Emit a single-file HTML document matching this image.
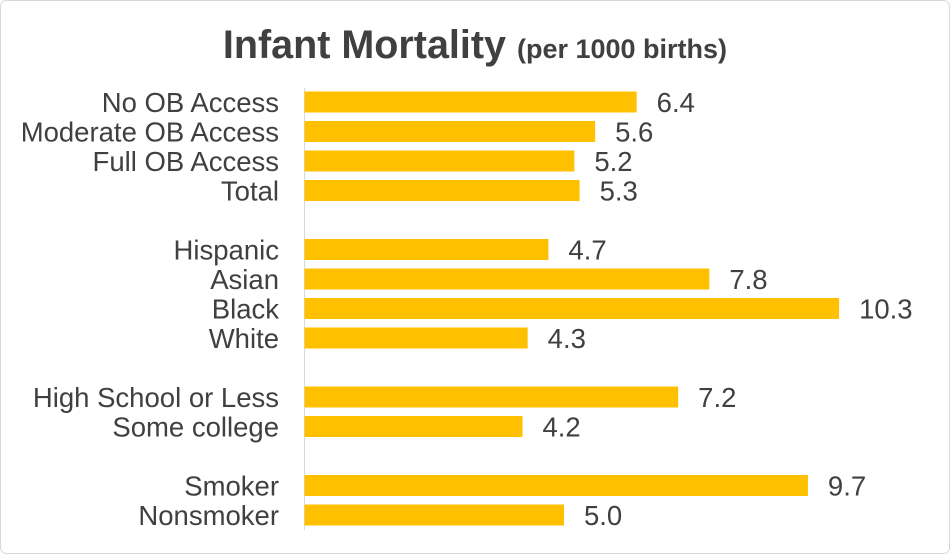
<!DOCTYPE html>
<html><head><meta charset="utf-8"><style>
body{margin:0;background:#fff;}
svg{display:block;font-family:"Liberation Sans",Arial,sans-serif;}
</style></head><body>
<svg id="chart" width="950" height="554">
<rect x="0.5" y="0.5" width="949" height="553" rx="6" fill="#fff" stroke="#d9d9d9"/>
<text x="475" y="58" text-anchor="middle" fill="#404040" font-weight="bold"><tspan font-size="39.5">Infant Mortality </tspan><tspan font-size="27">(per 1000 births)</tspan></text>
<line x1="304.5" y1="88" x2="304.5" y2="530" stroke="#d9d9d9"/>
<g id="bars"></g>
</svg>
<script>
const categories=["No OB Access","Moderate OB Access","Full OB Access","Total","","Hispanic","Asian","Black","White","","High School or Less","Some college","","Smoker","Nonsmoker"];
const values=[6.4,5.6,5.2,5.3,null,4.7,7.8,10.3,4.3,null,7.2,4.2,null,9.7,5.0];
const labels=["6.4","5.6","5.2","5.3","","4.7","7.8","10.3","4.3","","7.2","4.2","","9.7","5.0"];
const x0=304.5,pxPerUnit=51.9,y0=102,step=29.5,bh=21;
const xs=v=>x0+v*pxPerUnit;
const ys=i=>y0+i*step;
const g=document.getElementById('bars');
const NS="http://www.w3.org/2000/svg";
categories.forEach((c,i)=>{
  if(values[i]===null)return;
  const cy=ys(i);
  const r=document.createElementNS(NS,'rect');
  r.setAttribute('x',x0);r.setAttribute('y',cy-bh/2);
  r.setAttribute('width',xs(values[i])-x0);r.setAttribute('height',bh);
  r.setAttribute('fill','#FFC000');
  
  
  g.appendChild(r);
  const t=document.createElementNS(NS,'text');
  t.setAttribute('x',279);t.setAttribute('y',cy+10);
  t.setAttribute('text-anchor','end');t.setAttribute('font-size','27.5');t.setAttribute('fill','#404040');
  t.textContent=c;
  
  
  g.appendChild(t);
  const v=document.createElementNS(NS,'text');
  v.setAttribute('x',xs(values[i])+20);v.setAttribute('y',cy+10);
  v.setAttribute('font-size','27.5');v.setAttribute('fill','#404040');
  v.textContent=labels[i];
  
  
  g.appendChild(v);
});
</script>
</body></html>
